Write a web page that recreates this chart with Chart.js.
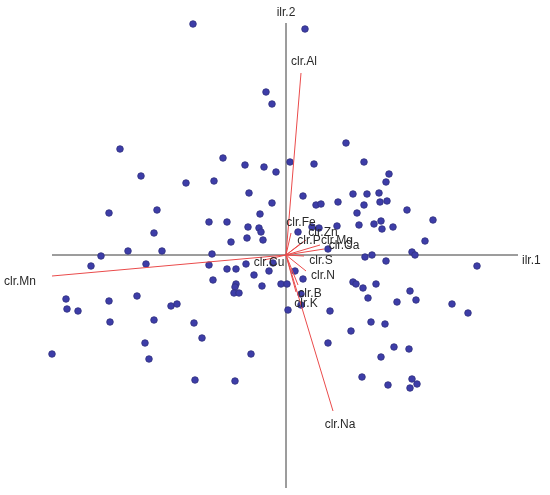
<!DOCTYPE html>
<html>
<head>
<meta charset="utf-8">
<script src="https://cdn.jsdelivr.net/npm/chart.js@4.4.1/dist/chart.umd.min.js"></script>
<style>
  html, body { margin: 0; padding: 0; background: #fff; }
  #wrap { width: 550px; height: 495px; }
</style>
</head>
<body>
<div id="wrap"><canvas id="biplot"></canvas></div>
<script>
// sample scores (ilr.1, ilr.2)
const scoreX = [-0.93, 0.19, -0.20, -0.14, -1.66, -0.63, -0.41, -0.22, -0.10, -1.45,
  -1.00, -0.72, -0.37, -0.14, -1.77, -1.29, -0.26, -0.77, -0.59, -0.38,
  -0.27, -0.25, -1.32, -0.39, -0.23, -0.55, -1.58, -1.24, 0.60, 0.04,
  0.28, 0.78, 1.03, 1.00, 0.17, 0.67, 0.81, 0.93, 0.30, 0.35,
  0.52, 0.78, 0.94, 1.01, 1.21, 0.71, 1.47, 0.73, 0.88, 0.95,
  0.96, 1.07, 0.51, 0.12, 0.26, 0.33, 1.39, 0.42, 0.79, 0.86,
  1.26, 1.29, 1.00, 1.91, -1.85, -0.74, -1.95, -1.40, -0.77, -0.59,
  -0.50, -0.40, -0.17, -0.73, -0.50, -0.51, -0.32, -0.24, -0.05, 0.01,
  -0.52, -0.47, -2.20, -2.19, -2.08, -1.77, -1.49, -1.15, -1.09, -1.76,
  -1.32, -0.92, -0.84, -1.41, -2.34, -1.37, -0.35, -0.91, -0.51, 0.09,
  0.17, 0.67, 0.70, 0.77, 0.90, 1.24, 0.82, 0.15, 1.11, 1.30,
  1.66, 1.82, 0.02, 0.15, 0.44, 0.85, 0.99, 0.65, 0.42, 1.08,
  1.23, 0.95, 0.76, 1.02, 1.26, 1.31, 1.24, -0.13];
const scoreY = [2.31, 2.26, 1.63, 1.51, 1.06, 0.97, 0.90, 0.88, 0.83, 0.79,
  0.72, 0.74, 0.62, 0.52, 0.42, 0.45, 0.41, 0.33, 0.33, 0.28,
  0.27, 0.23, 0.22, 0.17, 0.15, 0.13, 0.04, 0.04, 1.12, 0.93,
  0.91, 0.93, 0.81, 0.73, 0.59, 0.61, 0.61, 0.62, 0.50, 0.51,
  0.53, 0.50, 0.53, 0.54, 0.45, 0.42, 0.35, 0.30, 0.31, 0.34,
  0.26, 0.28, 0.29, 0.23, 0.28, 0.27, 0.14, 0.06, -0.02, 0.00,
  0.03, 0.00, -0.06, -0.11, -0.01, 0.01, -0.11, -0.09, -0.10, -0.14,
  -0.14, -0.09, -0.16, -0.25, -0.29, -0.32, -0.20, -0.31, -0.29, -0.29,
  -0.38, -0.38, -0.44, -0.54, -0.56, -0.46, -0.41, -0.51, -0.49, -0.67,
  -0.65, -0.68, -0.83, -0.88, -0.99, -1.04, -0.99, -1.25, -1.26, -0.16,
  -0.24, -0.27, -0.29, -0.33, -0.29, -0.36, -0.43, -0.39, -0.47, -0.45,
  -0.49, -0.58, -0.55, -0.50, -0.56, -0.67, -0.69, -0.76, -0.88, -0.92,
  -0.94, -1.02, -1.22, -1.30, -1.24, -1.29, -1.33, -0.08];

// variable loadings (arrow tips) and where their names sit
const varNames = ['clr.Al', 'clr.Mn', 'clr.Na', 'clr.Fe', 'clr.Zn', 'clr.P', 'clr.Mg',
  'clr.Ca', 'clr.S', 'clr.N', 'clr.B', 'clr.K', 'clr.Cu'];
const loadX = [0.15, -2.34, 0.47, 0.05, 0.20, 0.14, 0.34, 0.38, 0.18, 0.20, 0.12, 0.10, -0.22];
const loadY = [1.82, -0.21, -1.56, 0.22, 0.15, 0.11, 0.10, 0.06, -0.01, -0.16, -0.30, -0.37, -0.05];
const nameX = [0.18, -2.66, 0.54, 0.15, 0.37, 0.23, 0.51, 0.58, 0.35, 0.37, 0.24, 0.20, -0.17];
const nameY = [1.93, -0.27, -1.70, 0.32, 0.22, 0.14, 0.14, 0.09, -0.06, -0.21, -0.39, -0.49, -0.08];

// axis lines extent
const axisX = [-2.34, 2.32];
const axisY = [-2.33, 2.32];

const datasets = [];

varNames.forEach((n, i) => {
    datasets.push({
        type: 'line',
        label: n,
        data: [{ x: 0, y: 0 }, { x: loadX[i], y: loadY[i] }],
        borderColor: '#ea4b4b',
        borderWidth: 1,
        pointRadius: 0,
        fill: false,
        order: 1
    });
});

datasets.push({
    type: 'scatter',
    label: 'scores',
    data: scoreX.map((x, i) => ({ x: x, y: scoreY[i] })),
    backgroundColor: '#3d3da8',
    borderColor: '#30307e',
    borderWidth: 0.8,
    pointRadius: 3.3,
    order: 2
});

datasets.push({
    type: 'line',
    label: 'h',
    data: [{ x: axisX[0], y: 0 }, { x: axisX[1], y: 0 }],
    borderColor: '#3a3a3a',
    borderWidth: 1,
    pointRadius: 0,
    order: 3
});
datasets.push({
    type: 'line',
    label: 'v',
    data: [{ x: 0, y: axisY[0] }, { x: 0, y: axisY[1] }],
    borderColor: '#3a3a3a',
    borderWidth: 1,
    pointRadius: 0,
    order: 3
});

const labelPlugin = {
    id: 'labelPlugin',
    afterDatasetsDraw: (chart) => {
        const ctx = chart.ctx;
        const xs = chart.scales.x;
        const ys = chart.scales.y;
        ctx.save();
        ctx.font = '12px "Liberation Sans", Arial, sans-serif';
        ctx.fillStyle = '#2a2a2a';
        ctx.textAlign = 'center';
        ctx.textBaseline = 'middle';
        varNames.forEach((n, i) => {
            ctx.fillText(n, xs.getPixelForValue(nameX[i]), ys.getPixelForValue(nameY[i]));
        });
        // axis titles
        ctx.textAlign = 'left';
        ctx.fillText('ilr.1', xs.getPixelForValue(axisX[1]) + 4, ys.getPixelForValue(-0.06));
        ctx.textAlign = 'center';
        ctx.fillText('ilr.2', xs.getPixelForValue(0), ys.getPixelForValue(axisY[1]) - 10);
        ctx.restore();
    }
};

new Chart(document.getElementById('biplot').getContext('2d'), {
    type: 'scatter',
    data: { datasets: datasets },
    options: {
        responsive: true,
        maintainAspectRatio: false,
        animation: false,
        layout: { padding: 0, autoPadding: false },
        scales: {
            x: {
                type: 'linear',
                min: -2.86,
                max: 2.64,
                display: false
            },
            y: {
                type: 'linear',
                min: -2.40,
                max: 2.55,
                display: false
            }
        },
        plugins: {
            legend: { display: false },
            tooltip: { enabled: false }
        }
    },
    plugins: [labelPlugin]
});
</script>
</body>
</html>
